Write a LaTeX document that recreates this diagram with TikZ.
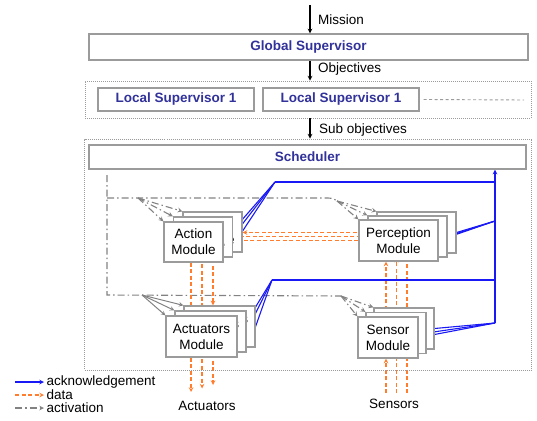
\documentclass[tikz,border=0pt]{standalone}
\usepackage{fontspec}
\setmainfont{Liberation Sans}
\usetikzlibrary{positioning, arrows, backgrounds}
\definecolor{ackblue}{RGB}{25,25,245}
\definecolor{dataorange}{RGB}{255,125,45}
\definecolor{actgray}{RGB}{130,130,130}
\definecolor{boxgray}{RGB}{155,155,155}
\definecolor{titleblue}{RGB}{50,50,155}
\tikzset{>=stealth, x=1pt, y=-1pt,
every node/.style={font=\fontsize{13.5}{16}\selectfont},
levelbox/.style={draw=boxgray, line width=1.2pt, fill=white, inner sep=0pt, text=titleblue, font=\fontsize{13.5}{16}\selectfont\bfseries},
module/.style={draw=boxgray, line width=1.2pt, fill=white, inner sep=0pt, align=center},
group/.style={draw=boxgray, line width=0.9pt, dash pattern=on 1pt off 1pt, inner sep=0pt},
flow/.style={->, line width=1.1pt},
ackline/.style={draw=ackblue, line width=1.1pt},
ack/.style={->, ackline},
data/.style={->, draw=dataorange, line width=1.1pt, dash pattern=on 4pt off 2.5pt},
activline/.style={draw=actgray, line width=1.1pt, dash pattern=on 7pt off 3pt on 1.5pt off 3pt},
activ/.style={->, activline},
}

\begin{document}
\begin{tikzpicture}
	\useasboundingbox (0,0) rectangle (537,420);

	% supervision levels
	\node[levelbox, minimum width=439pt, minimum height=26pt] (global) at (308.5,47) {Global Supervisor};
	\node[group, minimum width=446pt, minimum height=37pt] (localgrp) at (308,99.5) {};
	\node[levelbox, minimum width=156pt, minimum height=23pt] (local1) at (176,99.5) {Local Supervisor 1};
	\node[levelbox, minimum width=156pt, minimum height=23pt] (local2) at (341,99.5) {Local Supervisor 1};
	\coordinate (more) at (524,100);
	\draw[boxgray, line width=0.9pt, dash pattern=on 3pt off 2.5pt] ([xshift=4pt]local2.east) -- (more);

	\node[group, minimum width=447pt, minimum height=231pt] (ctrlgrp) at (308,254.5) {};
	\node[levelbox, minimum width=437pt, minimum height=24pt] (sched) at (307.5,157) {Scheduler};

	\coordinate (mission) at (310,5);
	\draw[flow] (mission) -- (mission |- global.north);
	\draw[flow] (mission |- global.south) -- (mission |- localgrp.north);
	\draw[flow] (mission |- localgrp.south) -- (mission |- ctrlgrp.north);
	\node[anchor=west, inner sep=0pt] (missionlbl) at (318,20) {Mission};
	\node[anchor=west, inner sep=0pt] (objlbl) at (318,69) {Objectives};
	\node[anchor=west, inner sep=0pt] (subobjlbl) at (319,130) {Sub objectives};

	% module stacks, back to front
	\foreach \i in {2,1,0} {
		\node[module, minimum width=59pt, minimum height=40pt] (act\i) at ({193.5+9.5*\i},{242-5*\i}) {Action\\Module};
		\node[module, minimum width=79pt, minimum height=41pt] (perc\i) at ({398.5+9*\i},{240.5-4*\i}) {Perception\\Module};
		\node[module, minimum width=71pt, minimum height=41pt] (acts\i) at ({201.5+9*\i},{336.5-5*\i}) {Actuators\\Module};
		\node[module, minimum width=60pt, minimum height=41pt] (sens\i) at ({388+8*\i},{337.5-4.5*\i}) {Sensor\\Module};
	}

	\node (actuatorslbl) at (207,406) {Actuators};
	\node (sensorslbl) at (394,404) {Sensors};

	\begin{scope}[on background layer]
		% activation
		\coordinate (acttop) at (107,175);
		\coordinate (actbot) at (107,295);
		\coordinate (actsplit) at (138,198);
		\coordinate (percsplit) at (337,201);
		\coordinate (actssplit) at (142,295);
		\coordinate (senssplit) at (341,296);
		\draw[activline] (acttop) -- (actbot) -- (senssplit);
		\draw[activline] (acttop |- actsplit) -- (325,198) to[out=0, in=140] (percsplit);
		\foreach \i in {0,1,2} {
			\draw[activ] (actsplit) -- (act\i.north west);
			\draw[activ] (percsplit) -- (perc\i.north west);
			\draw[->, actgray, line width=1pt] (actssplit) -- (acts\i.north west);
			\draw[activ] (senssplit) -- (sens\i.north west);
		}

		% data
		\foreach \i in {0,1,2} {
			\coordinate (out\i) at ({191+11*\i},{392-3.5*\i});
			\coordinate (in\i) at ({386+10.5*\i},393);
			\draw[data] (perc\i.west) -- (perc\i.west -| act\i.east);
			\draw[data] (out\i |- act\i.south) -- (out\i |- acts\i.north);
			\draw[data] (out\i |- acts\i.south) -- (out\i);
			\draw[data] (in\i) -- (in\i |- sens\i.south);
			\draw[data] (in\i |- sens\i.north) -- (in\i |- perc\i.south);
		}

		% acknowledgement
		\coordinate (busbot) at (495,323);
		\coordinate (ackact) at (275,182);
		\coordinate (ackacts) at (272,280);
		\coordinate (ackperc) at (495,221);
		\draw[ack] (busbot) -- (busbot |- sched.south);
		\draw[ackline, line width=1.7pt] (ackact) -- (ackact -| busbot);
		\draw[ackline, line width=1.7pt] (ackacts) -- (ackacts -| busbot);
		\foreach \i in {0,1,2} {
			\draw[ackline] (ackact) -- ([yshift=1pt]act\i.east);
			\draw[ackline] (ackperc) -- (perc\i.east);
			\draw[ackline] (ackacts) -- (acts\i.east);
			\draw[ackline] (busbot) -- (sens\i.east);
		}
	\end{scope}

	% legend
	\coordinate (lgack) at (15,382);
	\coordinate (lgdata) at (15,395);
	\coordinate (lgactiv) at (15,408);
	\draw[ack] (lgack) -- ++(29,0) node[right, inner sep=2pt] (acklbl) {acknowledgement};
	\draw[data] (lgdata) -- ++(29,0) node[right, inner sep=2pt] (datalbl) {data};
	\draw[activ] (lgactiv) -- ++(29,0) node[right, inner sep=2pt] (activlbl) {activation};
\end{tikzpicture}
\end{document}
